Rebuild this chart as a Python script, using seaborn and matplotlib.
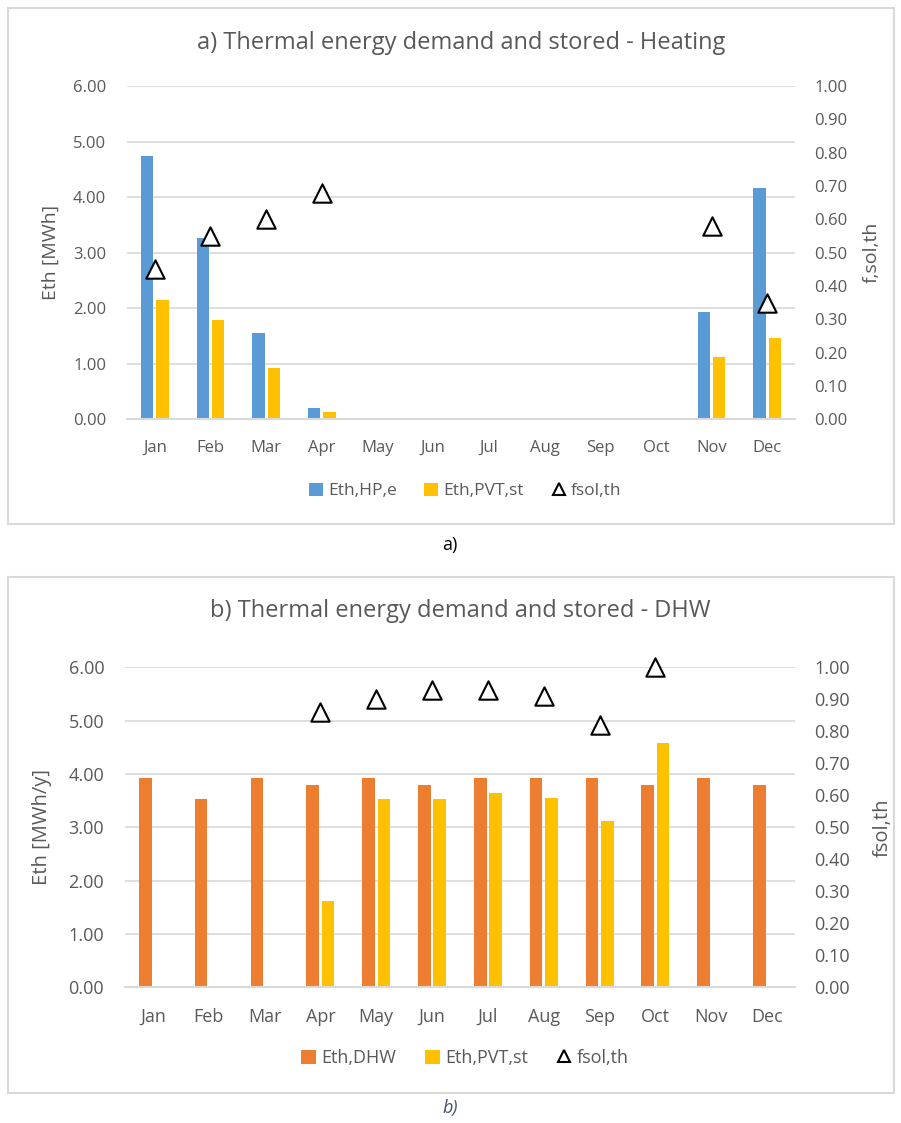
import numpy as np
import pandas as pd
import seaborn as sns
import matplotlib.pyplot as plt
from matplotlib.patches import Patch, Rectangle
from matplotlib.lines import Line2D

months = ['Jan', 'Feb', 'Mar', 'Apr', 'May', 'Jun', 'Jul', 'Aug', 'Sep', 'Oct', 'Nov', 'Dec']

# a) heating
eth_hp_e = [4.74, 3.26, 1.55, 0.21, 0, 0, 0, 0, 0, 0, 1.93, 4.16]
eth_pvt_heat = [2.15, 1.79, 0.92, 0.14, 0, 0, 0, 0, 0, 0, 1.12, 1.47]
fsol_heat = [0.45, 0.55, 0.60, 0.68, np.nan, np.nan, np.nan, np.nan, np.nan, np.nan, 0.58, 0.35]

# b) DHW
eth_dhw = [3.92, 3.53, 3.92, 3.79, 3.92, 3.79, 3.92, 3.92, 3.92, 3.79, 3.92, 3.79]
eth_pvt_dhw = [0, 0, 0, 1.61, 3.54, 3.54, 3.64, 3.55, 3.12, 4.59, 0, 0]
fsol_dhw = [np.nan, np.nan, np.nan, 0.86, 0.90, 0.93, 0.93, 0.91, 0.82, 1.00, np.nan, np.nan]

BLUE, YELLOW, ORANGE = '#5B9BD5', '#FFC000', '#ED7D31'
GREY_TXT = '#595959'
GRID = '#D9D9D9'

sns.set_style('white')
plt.rcParams['font.family'] = ['Open Sans', 'DejaVu Sans']
plt.rcParams['text.color'] = GREY_TXT

fig = plt.figure(figsize=(9.01, 11.23), dpi=100)

# outer chart frames
for (x0, y0, x1, y1) in [(8, 8, 894, 524), (8, 577, 894, 1093)]:
    fig.patches.append(Rectangle((x0 / 901, 1 - y1 / 1123), (x1 - x0) / 901, (y1 - y0) / 1123,
                                 transform=fig.transFigure, fill=False, edgecolor=GRID, lw=1.5))


def panel(rect, s1, s2, fsol, c1, lab1, ylab, ylab2, title, title_y, tick_fs, title_fs,
          leg_fs, ylab_fs, lab_x, legend_y):
    ax = fig.add_axes(rect)
    df = pd.DataFrame({'month': months * 2,
                       'val': list(s1) + list(s2),
                       'series': [lab1] * 12 + ['Eth,PVT,st'] * 12})
    sns.barplot(data=df, x='month', y='val', hue='series', palette=[c1, YELLOW],
                width=0.55, gap=0.18, ax=ax, legend=False, saturation=1, linewidth=0)
    ax.set_xlim(-0.5, 11.5)
    ax.set_ylim(0, 6)
    ax.set_yticks(np.arange(0, 6.01, 1))
    ax.set_yticklabels([f'{v:.2f}' for v in np.arange(0, 6.01, 1)])
    ax.grid(axis='y', color=GRID, lw=1.2)
    ax.set_axisbelow(True)
    for s in ['top', 'right', 'left']:
        ax.spines[s].set_visible(False)
    ax.spines['bottom'].set_color(GRID)
    ax.spines['bottom'].set_linewidth(1.5)
    ax.tick_params(axis='both', length=0, labelsize=tick_fs, labelcolor=GREY_TXT)
    ax.tick_params(axis='y', pad=15)
    ax.tick_params(axis='x', pad=15)
    ax.set_xlabel('')
    ax.set_ylabel(ylab, fontsize=ylab_fs, color=GREY_TXT)
    ax.yaxis.set_label_coords(lab_x[0], 0.5)

    ax2 = ax.twinx()
    sns.scatterplot(x=np.arange(12), y=fsol, marker='^', s=175, color='white',
                    edgecolor='black', linewidth=1.5, ax=ax2, zorder=5, clip_on=False)
    ax2.set_ylim(0, 1)
    ax2.set_yticks(np.arange(0, 1.001, 0.1))
    ax2.set_yticklabels([f'{v:.2f}' for v in np.arange(0, 1.001, 0.1)])
    for s in ax2.spines.values():
        s.set_visible(False)
    ax2.tick_params(axis='y', length=0, labelsize=tick_fs, labelcolor=GREY_TXT, pad=14)
    ax2.set_ylabel(ylab2, fontsize=ylab_fs, color=GREY_TXT)
    ax2.yaxis.set_label_coords(lab_x[1], 0.5)
    ax2.set_xlim(-0.5, 11.5)

    cx = rect[0] + rect[2] / 2
    fig.text(cx, title_y, title, ha='center', va='center', fontsize=title_fs, color=GREY_TXT)

    handles = [Patch(facecolor=c1, edgecolor='none'),
               Patch(facecolor=YELLOW, edgecolor='none'),
               Line2D([], [], marker='^', ls='none', ms=9, mfc='white', mec='black', mew=1.5)]
    fig.legend(handles, [lab1, 'Eth,PVT,st', 'fsol,th'], loc='center',
               bbox_to_anchor=(465 / 901, legend_y), ncol=3, frameon=False,
               fontsize=leg_fs, handlelength=0.8, handleheight=0.8, handletextpad=0.3,
               columnspacing=1.6, labelcolor=GREY_TXT)
    return ax


panel([127 / 901, 1 - 419.3 / 1123, 668 / 901, 333.3 / 1123],
      eth_hp_e, eth_pvt_heat, fsol_heat, BLUE, 'Eth,HP,e', 'Eth [MWh]', 'f,sol,th',
      'a) Thermal energy demand and stored - Heating', 1 - 43 / 1123, 12, 17, 12.5, 14,
      (-0.100, 1.102), 1 - 491 / 1123)

panel([125 / 901, 1 - 987.3 / 1123, 670 / 901, 320 / 1123],
      eth_dhw, eth_pvt_dhw, fsol_dhw, ORANGE, 'Eth,DHW', 'Eth [MWh/y]', 'fsol,th',
      'b) Thermal energy demand and stored - DHW', 1 - 611 / 1123, 13, 17, 13, 14.5,
      (-0.109, 1.116), 1 - 1058 / 1123)

fig.text(450 / 901, 1 - 545 / 1123, 'a)', ha='center', va='center', fontsize=13, color='black')
fig.text(450 / 901, 1 - 1108 / 1123, 'b)', ha='center', va='center', fontsize=13,
         color='#44546A', style='italic')

fig.savefig('out.png', dpi=100)
